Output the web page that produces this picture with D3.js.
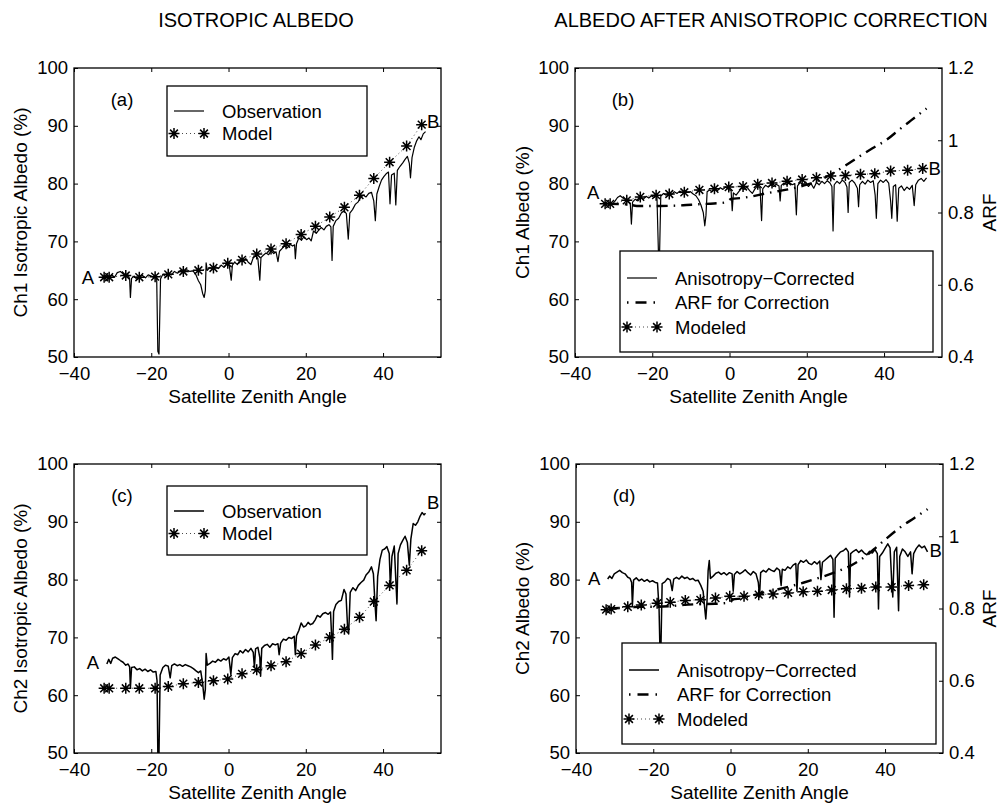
<!DOCTYPE html>
<html>
<head>
<meta charset="utf-8">
<script src="https://cdn.jsdelivr.net/npm/d3@7"></script>
<style>
  body { margin: 0; background: #fff; }
  svg text { font-family: "Liberation Sans", Arial, Helvetica, sans-serif; fill: #000; }
</style>
</head>
<body>
<svg id="fig" width="1000" height="804"></svg>
<script>
// ---- data ----
const xTicks = [-40, -20, 0, 20, 40];
const albedoTicks = [50, 60, 70, 80, 90, 100];
const arfTicks = [0.4, 0.6, 0.8, 1, 1.2];

// satellite zenith angles of the model stars (same in every panel)
const modelX = [-32.2, -30.9, -26.6, -23.1, -19.0, -15.6, -11.7, -7.8, -3.9, -0.2, 3.5, 7.3,
  11.0, 14.9, 18.8, 22.5, 26.2, 30.0, 33.9, 37.6, 41.7, 46.1, 50.0];

const modelCh1Iso = [63.8, 63.8, 64.1, 63.8, 63.9, 64.3, 64.8, 65.0, 65.4, 66.2, 66.8, 67.8,
  68.7, 69.6, 71.2, 72.6, 74.2, 75.9, 78.0, 80.9, 83.7, 86.5, 90.2];
const modelCh1Cor = [76.5, 76.5, 77.1, 77.7, 78.0, 78.2, 78.5, 78.9, 79.1, 79.4, 79.5, 79.9,
  80.1, 80.4, 80.7, 81.0, 81.3, 81.4, 81.6, 81.7, 82.2, 82.3, 82.6];
const modelCh2Iso = [61.2, 61.2, 61.2, 61.2, 61.2, 61.5, 62.0, 62.2, 62.5, 62.8, 63.7, 64.4,
  65.1, 65.8, 67.2, 68.7, 70.0, 71.4, 73.5, 76.2, 79.0, 81.6, 85.0];
const modelCh2Cor = [74.8, 74.9, 75.3, 75.6, 75.9, 76.1, 76.4, 76.5, 76.8, 77.1, 77.1, 77.4,
  77.5, 77.7, 77.9, 78.0, 78.2, 78.4, 78.5, 78.7, 78.7, 79.0, 79.1];

// observed albedo [angle, %]
const obsCh1Iso = [[-32.2,63.6],[-31.5,64.0],[-31,63.5],[-30.2,64.2],[-29.5,63.8],[-28.8,64.6],[-28,64.8],[-27.3,64.4],[-26.6,63.9],[-26,64.2],
  [-25.6,63.5],[-25.4,60.3],[-25.1,63.6],[-24.4,64.0],[-23.7,63.4],[-23.1,63.9],[-22.3,64.1],[-21.5,63.7],[-20.8,64.2],[-20,64.0],
  [-19.3,63.8],[-18.6,63.8],[-18.3,51.0],[-18.0,50.5],[-17.6,63.5],[-17,64.3],[-16.2,63.9],[-15.5,64.5],[-14.8,64.2],[-14,64.8],
  [-13.2,64.5],[-12.4,65.0],[-11.6,64.7],[-10.8,65.1],[-10,64.8],[-9.2,64.9],[-8.5,64.3],[-7.8,63.2],[-7.2,62.5],[-6.7,61.0],
  [-6.3,60.3],[-6.0,61.5],[-5.8,66.3],[-5.5,65.0],[-4.8,65.5],[-4.0,65.1],[-3.3,65.6],[-2.6,65.3],[-1.9,65.9],[-1.2,65.5],
  [-0.5,66.1],[0.2,65.8],[0.7,63.3],[1.0,65.9],[1.6,66.4],[2.3,66.0],[3.0,66.8],[3.7,66.5],[4.4,67.0],[5.1,66.4],
  [5.8,66.0],[6.4,67.2],[7.0,67.5],[7.6,67.0],[8.1,63.3],[8.4,67.2],[9.0,67.6],[9.7,68.0],[10.4,67.7],[11.0,68.4],
  [11.7,67.9],[12.3,68.2],[12.8,66.5],[13.2,68.3],[13.9,68.8],[14.5,69.2],[15.2,68.9],[15.9,69.5],[16.6,69.2],[17.1,69.4],
  [17.3,67.0],[17.6,69.6],[18.2,70.6],[18.9,70.2],[19.5,70.8],[20.2,70.3],[20.8,70.6],[21.4,70.1],[22.0,71.8],[22.7,71.4],
  [23.4,72.0],[24.0,72.4],[24.7,72.0],[25.3,72.6],[26.0,72.9],[26.5,72.5],[26.8,66.7],[27.1,72.6],[27.8,73.6],[28.5,74.0],
  [29.2,74.9],[29.9,75.3],[30.5,74.8],[31.0,70.4],[31.4,74.9],[32.1,75.5],[32.8,76.4],[33.5,76.8],[34.2,77.6],[34.9,78.0],
  [35.6,77.7],[36.3,78.3],[37.0,78.5],[37.6,77.0],[38.0,73.6],[38.4,78.2],[39.0,79.5],[39.6,80.6],[40.2,81.2],[40.8,81.7],
  [41.4,82.0],[41.8,76.5],[42.2,81.5],[42.9,81.8],[43.3,76.3],[43.7,82.3],[44.4,83.0],[45.1,83.6],[45.7,84.2],[46.3,84.7],
  [46.8,83.5],[47.1,81.0],[47.5,84.5],[48.1,86.3],[48.7,87.4],[49.3,88.1],[49.8,87.6],[50.4,88.6],[51.0,89.0]];

const obsCh1Cor = [[-31.5,76.4],[-31,76.8],[-30.3,76.5],[-29.6,77.0],[-29,77.6],[-28.3,77.9],[-27.6,77.5],[-27,77.3],[-26.3,77.0],[-25.7,76.6],
  [-25.4,73.0],[-25.1,76.8],[-24.4,77.3],[-23.7,77.0],[-23.0,77.6],[-22.3,77.3],[-21.6,77.8],[-20.9,77.5],[-20.2,77.9],[-19.5,77.6],
  [-18.8,78.0],[-18.4,68.0],[-18.1,68.0],[-17.8,77.8],[-17.1,78.3],[-16.4,78.0],[-15.7,78.4],[-15,78.1],[-14.3,78.6],[-13.6,78.3],
  [-12.9,78.7],[-12.2,78.4],[-11.5,78.8],[-10.8,78.5],[-10.1,78.6],[-9.4,78.2],[-8.7,77.9],[-8.0,77.2],[-7.4,76.3],[-6.8,75.0],
  [-6.4,72.7],[-6.1,74.5],[-5.8,78.6],[-5.2,78.9],[-4.5,78.6],[-3.8,79.1],[-3.1,78.8],[-2.4,79.3],[-1.7,79.0],[-1.0,79.4],
  [-0.3,79.0],[0.4,78.8],[0.7,75.3],[1.0,78.4],[1.7,78.0],[2.4,78.6],[3.1,79.2],[3.8,79.0],[4.5,79.4],[5.2,78.8],
  [5.9,78.3],[6.5,79.0],[7.2,79.6],[7.9,79.2],[8.3,73.6],[8.6,79.1],[9.3,79.7],[10.0,79.4],[10.7,79.8],[11.4,79.5],
  [12.1,79.9],[12.8,79.6],[13.1,77.0],[13.4,79.7],[14.1,80.1],[14.8,79.8],[15.5,80.2],[16.2,79.8],[16.9,80.0],[17.3,74.6],
  [17.6,79.6],[18.3,80.2],[19.0,79.8],[19.7,80.3],[20.4,79.5],[21.1,80.0],[21.8,79.2],[22.5,80.2],[23.2,79.8],[23.9,80.4],
  [24.6,80.0],[25.3,80.5],[26.0,80.1],[26.5,79.5],[26.8,71.8],[27.1,79.8],[27.8,80.4],[28.5,80.0],[29.2,80.6],[29.9,80.2],
  [30.4,79.4],[30.7,75.0],[31.0,80.2],[31.7,80.6],[32.4,80.1],[33.1,79.2],[33.4,76.0],[33.7,79.8],[34.4,80.4],[35.1,79.9],
  [35.8,80.6],[36.5,80.2],[37.2,80.5],[37.7,78.0],[38.0,74.0],[38.4,80.0],[39.1,80.6],[39.8,80.2],[40.5,80.7],[41.2,80.1],
  [41.7,77.0],[42.0,74.0],[42.4,79.5],[43.0,79.8],[43.4,73.5],[43.8,79.2],[44.5,79.6],[45.2,78.8],[45.9,79.4],[46.6,79.0],
  [47.3,79.7],[47.8,76.2],[48.2,79.8],[48.9,80.6],[49.6,80.9],[50.3,80.4],[51.0,81.0]];

const obsCh2Iso = [[-31.5,65.4],[-31.0,66.2],[-30.5,65.5],[-30.0,66.4],[-29.3,66.6],[-28.6,66.3],[-28.0,66.0],[-27.3,65.7],[-26.6,65.2],[-26.0,65.4],
  [-25.6,64.9],[-25.4,61.3],[-25.1,64.8],[-24.4,64.9],[-23.7,64.4],[-23.0,64.6],[-22.3,64.2],[-21.6,64.5],[-20.9,64.1],[-20.2,64.4],
  [-19.5,64.0],[-18.8,64.1],[-18.5,62.5],[-18.3,50.0],[-18.0,50.0],[-17.7,63.5],[-17.0,64.8],[-16.3,65.2],[-15.6,65.0],[-15.1,63.0],
  [-14.7,65.1],[-14.0,65.4],[-13.3,65.1],[-12.6,65.3],[-11.9,65.0],[-11.2,65.3],[-10.5,65.1],[-9.8,64.9],[-9.1,64.6],[-8.4,64.2],
  [-7.8,63.9],[-7.2,64.2],[-6.7,62.0],[-6.3,59.3],[-6.0,61.0],[-5.8,67.2],[-5.5,65.2],[-4.8,65.5],[-4.1,65.9],[-3.4,65.7],
  [-2.7,66.2],[-2.0,65.9],[-1.3,66.3],[-0.6,66.1],[0.1,66.6],[0.6,63.6],[1.0,66.5],[1.7,67.2],[2.4,67.0],[3.0,67.7],
  [3.7,67.3],[4.4,67.9],[5.1,67.5],[5.8,68.1],[6.4,67.4],[6.7,64.8],[7.0,68.0],[7.6,68.3],[8.1,66.5],[8.3,63.3],
  [8.6,68.1],[9.3,68.6],[10.0,68.8],[10.7,68.3],[11.4,68.9],[12.1,68.7],[12.8,68.9],[13.1,67.0],[13.5,69.0],[14.2,69.7],
  [14.9,69.5],[15.6,70.0],[16.3,69.8],[17.0,70.2],[17.3,67.0],[17.6,70.3],[18.2,71.2],[18.8,72.5],[19.4,71.8],[20.0,72.0],
  [20.6,72.6],[21.2,72.2],[21.8,72.4],[22.4,73.0],[23.0,73.8],[23.7,73.5],[24.4,74.1],[25.1,74.3],[25.8,74.0],[26.4,74.4],
  [26.7,70.0],[26.9,66.2],[27.2,74.5],[27.8,75.7],[28.5,76.2],[29.2,76.4],[29.9,78.3],[30.4,77.5],[30.8,72.0],[31.1,70.6],
  [31.5,77.8],[32.2,78.6],[32.9,78.1],[33.6,79.0],[34.3,79.5],[35.0,79.9],[35.6,80.8],[36.3,81.3],[37.0,82.2],[37.5,81.0],
  [37.9,76.0],[38.2,72.9],[38.6,80.5],[39.2,83.5],[39.8,85.1],[40.4,85.3],[41.0,85.7],[41.6,84.5],[41.9,78.7],[42.3,84.0],
  [42.9,85.8],[43.3,80.0],[43.6,75.8],[43.9,84.5],[44.5,86.0],[45.1,86.8],[45.7,87.5],[46.3,86.4],[46.8,82.5],[47.2,87.0],
  [47.8,89.7],[48.4,89.4],[49.0,90.0],[49.6,91.0],[50.1,91.6],[50.6,91.2],[51.0,91.5]];

const obsCh2Cor = [[-31.8,80.1],[-31.3,80.6],[-30.7,80.2],[-30.1,81.0],[-29.4,81.3],[-28.7,81.6],[-28.0,81.2],[-27.3,81.0],[-26.6,80.4],[-26.0,80.2],
  [-25.6,79.5],[-25.4,75.5],[-25.1,79.9],[-24.4,80.3],[-23.7,79.8],[-23.0,80.1],[-22.3,79.7],[-21.6,80.0],[-20.9,79.6],[-20.2,79.8],
  [-19.5,79.5],[-18.9,79.4],[-18.5,75.0],[-18.3,68.8],[-18.0,68.8],[-17.7,79.3],[-17.0,79.6],[-16.3,80.2],[-15.6,79.9],[-15.1,78.1],
  [-14.7,80.1],[-14.0,80.4],[-13.3,80.1],[-12.6,80.6],[-11.9,80.2],[-11.2,80.4],[-10.5,80.0],[-9.8,80.2],[-9.1,79.8],[-8.4,79.9],
  [-7.7,79.0],[-7.1,78.0],[-6.6,74.5],[-6.4,73.2],[-6.1,76.0],[-5.8,81.5],[-5.5,83.3],[-5.2,80.2],[-4.5,80.6],[-3.8,81.1],
  [-3.1,81.3],[-2.4,80.9],[-1.7,81.2],[-1.0,80.8],[-0.3,81.2],[0.4,81.0],[0.7,78.0],[1.0,80.9],[1.7,81.4],[2.4,81.0],
  [3.1,81.3],[3.8,81.7],[4.5,81.2],[5.2,80.8],[5.9,81.4],[6.6,81.0],[7.2,79.5],[7.5,77.0],[7.8,81.2],[8.5,81.6],
  [9.2,81.3],[9.9,81.9],[10.6,81.6],[11.3,81.4],[12.0,82.0],[12.7,81.6],[13.1,79.0],[13.4,81.8],[14.1,81.6],[14.8,82.2],
  [15.5,81.9],[16.2,82.5],[16.9,82.8],[17.2,78.0],[17.5,82.6],[18.2,83.3],[18.9,83.0],[19.6,83.4],[20.3,82.8],[21.0,82.6],
  [21.7,83.1],[22.4,82.7],[23.1,83.2],[23.4,80.0],[23.8,83.0],[24.5,83.4],[25.2,83.8],[25.9,84.2],[26.5,83.5],[26.8,73.5],
  [27.1,83.7],[27.8,84.3],[28.5,84.8],[29.2,85.0],[29.9,85.4],[30.5,84.8],[30.8,77.0],[31.1,84.5],[31.8,84.9],[32.5,85.2],
  [33.2,84.7],[33.9,85.1],[34.6,84.6],[35.3,84.3],[36.0,84.9],[36.7,84.6],[37.4,85.2],[38.0,84.5],[38.3,74.9],[38.6,84.0],
  [39.3,84.6],[40.0,85.4],[40.7,86.2],[41.3,85.5],[41.7,80.0],[42.0,77.0],[42.4,84.8],[43.0,85.6],[43.5,74.6],[43.8,84.0],
  [44.5,85.3],[45.2,84.8],[45.9,84.0],[46.6,84.8],[47.0,81.0],[47.4,84.5],[48.1,85.4],[48.8,86.0],[49.5,85.5],[50.2,85.8],
  [51.0,84.8]];

// anisotropic reflectance factor used for the correction [angle, ARF]
const arfCh1 = [[-31.5,0.824],[-26,0.822],[-24,0.818],[-18,0.818],[-12,0.82],[-8,0.823],[-4,0.825],[-1,0.828],[0.5,0.838],[3,0.84],
  [6,0.845],[9,0.852],[12,0.858],[16,0.866],[20,0.877],[24,0.893],[27,0.91],[30,0.93],[34,0.958],[37,0.978],
  [40.5,1.0],[44,1.03],[47,1.055],[51,1.088]];
const arfCh2 = [[-31.5,0.80],[-26,0.803],[-23,0.805],[-19,0.805],[-15,0.807],[-12,0.81],[-8,0.812],[-4,0.813],[0,0.817],[0.5,0.825],
  [3,0.828],[7,0.84],[11,0.85],[15,0.86],[19,0.872],[23,0.885],[27,0.9],[31,0.918],[35,0.945],[38,0.972],
  [40.5,0.995],[44,1.025],[47.5,1.05],[51,1.075]];

// "A" / "B" annotations [angle, %]
const endLabelsA = [[-36.4, 63.8], [53.0, 90.7]];
const endLabelsB = [[-35.3, 78.5], [53.1, 82.6]];
const endLabelsC = [[-35.1, 65.7], [53.0, 93.3]];
const endLabelsD = [[-35.3, 80.3], [53.1, 85.1]];

// ---- drawing ----
const svg = d3.select('#fig');
const FONT = 18.5;

const starPath = 'M-5.5,0L5.5,0M0,-5.5L0,5.5M-3.9,-3.9L3.9,3.9M-3.9,3.9L3.9,-3.9';

function drawStars(g, pts) {
  g.selectAll(null)
    .data(pts)
    .join('path')
    .attr('d', starPath)
    .attr('transform', d => `translate(${d[0]},${d[1]})`)
    .attr('fill', 'none')
    .attr('stroke', '#000')
    .attr('stroke-width', 1.5);
}

const panels = [
  { id: 'a', left: 74, top: 68, obs: obsCh1Iso, model: modelCh1Iso, ylabel: 'Ch1 Isotropic Albedo (%)',
    ylabX: 20, obsLabel: 'Observation', modelLabel: 'Model', obsWidth: 1.2, ends: endLabelsA,
    legend: { x: 167, y: 86, w: 200, h: 70 } },
  { id: 'b', left: 575, top: 68, obs: obsCh1Cor, model: modelCh1Cor, arf: arfCh1, ylabel: 'Ch1 Albedo (%)',
    ylabX: 522, obsLabel: 'Anisotropy\u2212Corrected', modelLabel: 'Modeled', obsWidth: 1.2, ends: endLabelsB,
    legend: { x: 620, y: 251, w: 313, h: 101 } },
  { id: 'c', left: 74, top: 464, obs: obsCh2Iso, model: modelCh2Iso, ylabel: 'Ch2 Isotropic Albedo (%)',
    ylabX: 20, obsLabel: 'Observation', modelLabel: 'Model', obsWidth: 1.5, ends: endLabelsC,
    legend: { x: 167, y: 486, w: 200, h: 69 } },
  { id: 'd', left: 576, top: 464, obs: obsCh2Cor, model: modelCh2Cor, arf: arfCh2, ylabel: 'Ch2 Albedo (%)',
    ylabX: 522, obsLabel: 'Anisotropy\u2212Corrected', modelLabel: 'Modeled', obsWidth: 1.5, ends: endLabelsD,
    legend: { x: 622, y: 643, w: 314, h: 101 } }
];

const PW = 367, PH = 289;

panels.forEach(p => {
  const right = p.left + PW, bottom = p.top + PH;
  const x = d3.scaleLinear().domain([-40, 55]).range([p.left, right]);
  const y = d3.scaleLinear().domain([50, 100]).range([bottom, p.top]);
  const yArf = d3.scaleLinear().domain([0.4, 1.2]).range([bottom, p.top]);

  const g = svg.append('g');

  svg.append('clipPath').attr('id', 'clip-' + p.id)
    .append('rect').attr('x', p.left).attr('y', p.top).attr('width', PW).attr('height', PH);

  // axes, ticks pointing inward (MATLAB style box)
  g.append('g').attr('transform', `translate(0,${bottom})`)
    .call(d3.axisBottom(x).tickValues(xTicks).tickSize(-4).tickPadding(10).tickFormat(d3.format('')))
    .call(a => a.select('.domain').remove());
  g.append('g').attr('transform', `translate(0,${p.top})`)
    .call(d3.axisTop(x).tickValues(xTicks).tickSize(-4).tickFormat(''))
    .call(a => a.select('.domain').remove());
  g.append('g').attr('transform', `translate(${p.left},0)`)
    .call(d3.axisLeft(y).tickValues(albedoTicks).tickSize(-4).tickPadding(6))
    .call(a => a.select('.domain').remove());
  if (p.arf) {
    g.append('g').attr('transform', `translate(${right},0)`)
      .call(d3.axisRight(yArf).tickValues(arfTicks).tickSize(-4).tickPadding(6).tickFormat(d => d3.format('')(+d.toFixed(1))))
      .call(a => a.select('.domain').remove());
  } else {
    g.append('g').attr('transform', `translate(${right},0)`)
      .call(d3.axisRight(y).tickValues(albedoTicks).tickSize(-4).tickFormat(''))
      .call(a => a.select('.domain').remove());
  }
  g.selectAll('.tick line').attr('stroke', '#000').attr('stroke-width', 1);
  g.selectAll('.tick text').attr('font-size', FONT).attr('fill', '#000');

  g.append('rect')
    .attr('x', p.left).attr('y', p.top).attr('width', PW).attr('height', PH)
    .attr('fill', 'none').attr('stroke', '#000').attr('stroke-width', 1.3);

  // axis labels
  g.append('text')
    .attr('x', (p.left + right) / 2).attr('y', bottom + 46)
    .attr('text-anchor', 'middle').attr('font-size', 19)
    .text('Satellite Zenith Angle');
  g.append('text')
    .attr('transform', `translate(${p.ylabX},${(p.top + bottom) / 2}) rotate(-90)`)
    .attr('text-anchor', 'middle').attr('dy', '0.35em').attr('font-size', 19)
    .text(p.ylabel);
  if (p.arf) {
    g.append('text')
      .attr('transform', `translate(989,${(p.top + bottom) / 2}) rotate(-90)`)
      .attr('text-anchor', 'middle').attr('dy', '0.35em').attr('font-size', 19)
      .text('ARF');
  }

  const plot = g.append('g').attr('clip-path', `url(#clip-${p.id})`);

  // observation
  plot.append('path')
    .datum(p.obs)
    .attr('d', d3.line().x(d => x(d[0])).y(d => y(d[1])))
    .attr('fill', 'none').attr('stroke', '#000')
    .attr('stroke-width', p.obsWidth).attr('stroke-linejoin', 'round');

  // ARF, dash-dot
  if (p.arf) {
    plot.append('path')
      .datum(p.arf)
      .attr('d', d3.line().curve(d3.curveMonotoneX).x(d => x(d[0])).y(d => yArf(d[1])))
      .attr('fill', 'none').attr('stroke', '#000').attr('stroke-width', 2.4)
      .attr('stroke-dasharray', '11,6,1.5,6');
  }

  // model, dotted line with stars
  const modelPts = modelX.map((v, i) => [x(v), y(p.model[i])]);
  plot.append('path')
    .datum(modelPts)
    .attr('d', d3.line())
    .attr('fill', 'none').attr('stroke', '#333').attr('stroke-width', 0.9)
    .attr('stroke-dasharray', '1,3');
  drawStars(plot, modelPts);

  // A / B end labels
  g.selectAll(null)
    .data(p.ends)
    .join('text')
    .attr('x', d => x(d[0])).attr('y', d => y(d[1]))
    .attr('text-anchor', 'middle').attr('dy', '0.36em').attr('font-size', FONT)
    .text((d, i) => i === 0 ? 'A' : 'B');

  // panel letter
  g.append('text')
    .attr('x', p.left + 48).attr('y', p.top + 38)
    .attr('text-anchor', 'middle').attr('font-size', FONT)
    .text(`(${p.id})`);

  // legend
  const L = p.legend;
  const lg = g.append('g');
  lg.append('rect')
    .attr('x', L.x).attr('y', L.y).attr('width', L.w).attr('height', L.h)
    .attr('fill', '#fff').attr('stroke', '#000').attr('stroke-width', 1.3);
  const rows = p.arf
    ? [{ t: p.obsLabel, k: 'obs' }, { t: 'ARF for Correction', k: 'arf' }, { t: p.modelLabel, k: 'model' }]
    : [{ t: p.obsLabel, k: 'obs' }, { t: p.modelLabel, k: 'model' }];
  const rowGap = p.arf ? 24.5 : 22.5;
  const firstRow = p.arf ? 27 : 25;
  const sx0 = L.x + 7, sx1 = L.x + 37, tx = L.x + 55;
  rows.forEach((r, i) => {
    const ry = L.y + firstRow + i * rowGap;
    if (r.k === 'obs') {
      lg.append('line').attr('x1', sx0).attr('x2', sx1).attr('y1', ry).attr('y2', ry)
        .attr('stroke', '#000').attr('stroke-width', p.obsWidth);
    } else if (r.k === 'arf') {
      lg.append('line').attr('x1', sx0).attr('x2', sx1).attr('y1', ry).attr('y2', ry)
        .attr('stroke', '#000').attr('stroke-width', 2.4)
        .attr('stroke-dasharray', '1.5,7,11,7');
    } else {
      lg.append('line').attr('x1', sx0).attr('x2', sx1).attr('y1', ry).attr('y2', ry)
        .attr('stroke', '#333').attr('stroke-width', 0.9).attr('stroke-dasharray', '1,3');
      drawStars(lg, [[sx0, ry], [sx1, ry]]);
    }
    lg.append('text').attr('x', tx).attr('y', ry).attr('dy', '0.36em')
      .attr('font-size', FONT).text(r.t);
  });
});

// column titles
svg.append('text').attr('x', 256).attr('y', 27).attr('text-anchor', 'middle')
  .attr('font-size', 20).text('ISOTROPIC ALBEDO');
svg.append('text').attr('x', 771).attr('y', 27).attr('text-anchor', 'middle')
  .attr('font-size', 20).text('ALBEDO AFTER ANISOTROPIC CORRECTION');
</script>
</body>
</html>
